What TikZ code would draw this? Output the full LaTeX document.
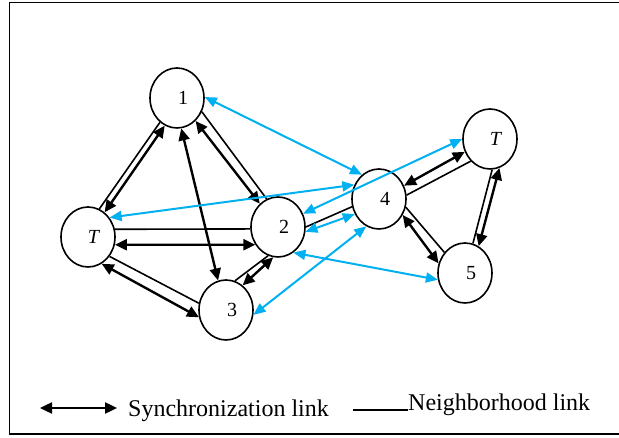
\documentclass[tikz,border=0pt]{standalone}
\usepackage{fontspec}
\setmainfont{Liberation Serif}
\usetikzlibrary{shapes.geometric, arrows.meta}

\definecolor{linkblue}{RGB}{0,176,240}

\tikzset{
  st/.style={ellipse, draw, line width=1.6pt, minimum width=54pt, minimum height=60pt, inner sep=0pt},
  lbl/.style={xshift=6pt, font=\fontsize{20}{24}\selectfont},
  nbr/.style={line width=1.6pt},
  sync/.style={{Triangle[length=12pt,width=11pt]}-{Triangle[length=12pt,width=11pt]}, line width=2.4pt},
  blu/.style={{Triangle[length=12pt,width=10pt]}-{Triangle[length=12pt,width=10pt]}, line width=2pt, linkblue},
  legend/.style={anchor=base west, inner sep=0pt, font=\fontsize{24}{28}\selectfont}
}

\begin{document}
\begin{tikzpicture}[x=1pt, y=-1pt]
    \useasboundingbox (0,0) rectangle (619,438);
    \draw[line width=1.6pt] (9.5,2.5) rectangle (640,434);

    \node (v1) [st, label={[lbl]center:1}] at (177,98) {};
    \node (tl) [st, label={[lbl]center:\textit{T}}] at (88,237) {};
    \node (v2) [st, label={[lbl]center:2}] at (278,227) {};
    \node (v3) [st, label={[lbl]center:3}] at (226,310) {};
    \node (v4) [st, label={[lbl]center:4}] at (379,199) {};
    \node (tr) [st, label={[lbl]center:\textit{T}}] at (490,139) {};
    \node (v5) [st, label={[lbl]center:5}] at (465,273) {};

    % neighborhood links
    \draw[nbr] (v1.235) -- (tl.68);
    \draw[nbr] (v1.331) -- (v2.112);
    \draw[nbr] (tl.16) -- (v2.184);
    \draw[nbr] (tl.318) -- (v3.166);
    \draw[nbr] (v3.73) -- (v2.251);
    \draw[nbr] (v2.0) -- (v4.196);
    \draw[nbr] (v4.8) -- (tr.229);
    \draw[nbr] (v4.343) -- (v5.135);
    \draw[nbr] (tr.274) -- (v5.75);

    % synchronization links
    \draw[sync] (v1.246) -- (tl.56);
    \draw[sync] (v1.309) -- (v2.128);
    \draw[sync] (v1.278) -- (v3.105);
    \draw[sync] (tl.344) -- (v2.218);
    \draw[sync] (tl.297) -- (v3.195);
    \draw[sync] (v3.56) -- (v2.261);
    \draw[sync] (v4.28) -- (tr.207);
    \draw[sync] (v4.326) -- (v5.160);
    \draw[sync] (tr.288) -- (v5.63);

    % blue links
    \draw[blu] (v1.2) -- (v4.125);
    \draw[blu] (tl.42) -- (v4.150);
    \draw[blu] (v2.28) -- (tr.180);
    \draw[blu] (v2.350) -- (v4.212);
    \draw[blu] (v2.301) -- (v5.194);
    \draw[blu] (v3.350) -- (v4.245);

    % legend
    \coordinate (sa) at (40,408);
    \coordinate (sb) at (117,408);
    \draw[sync] (sa) -- (sb);
    \node (synctxt) [legend] at (128,417) {Synchronization link};
    \coordinate (na) at (353,410);
    \node (nbrtxt) [legend] at (408,410) {Neighborhood link};
    \draw[nbr] (na) -- (nbrtxt.base west);
\end{tikzpicture}
\end{document}
